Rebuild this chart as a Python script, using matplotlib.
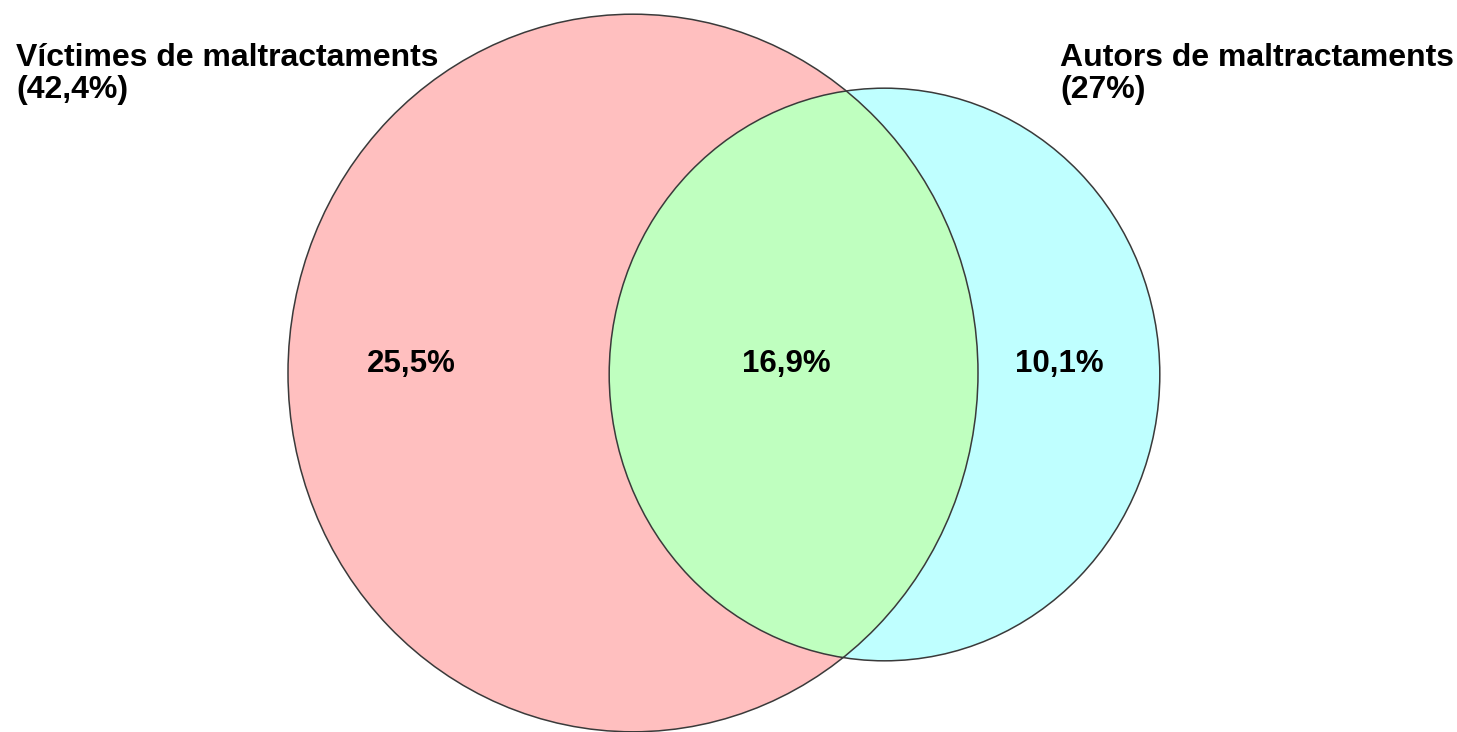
import numpy as np
import matplotlib.pyplot as plt
from matplotlib.patches import Ellipse

# Data
set_names = ["Víctimes de maltractaments", "Autors de maltractaments"]
set_totals = [42.4, 27.0]          # % of each whole set
region_values = [25.5, 16.9, 10.1]  # only victims, both, only authors

plt.rcParams['font.family'] = ['Liberation Sans', 'DejaVu Sans']

fig = plt.figure(figsize=(14.57, 7.32), dpi=100)
ax = fig.add_axes([0, 0, 1, 1])
ax.set_xlim(0, 1457)
ax.set_ylim(732, 0)
ax.axis('off')

# Circle sizes proportional to area (slightly stretched vertically like the source)
k = 345 / np.sqrt(set_totals[0])
radii = [k * np.sqrt(v) for v in set_totals]
stretch = 1.04
centers = [(633, 373), (884.5, 374.5)]
colors = ['#ffbfbf', '#bfffff']
edge = '#3a3a3a'

left = Ellipse(centers[0], 2 * radii[0], 2 * radii[0] * stretch,
               facecolor=colors[0], edgecolor='none')
right = Ellipse(centers[1], 2 * radii[1], 2 * radii[1] * stretch,
                facecolor=colors[1], edgecolor='none')
ax.add_patch(left)
ax.add_patch(right)

# overlap region: right circle clipped by left circle
both = Ellipse(centers[1], 2 * radii[1], 2 * radii[1] * stretch,
               facecolor='#bfffbf', edgecolor='none')
ax.add_patch(both)
both.set_clip_path(left)

for c, r in zip(centers, radii):
    ax.add_patch(Ellipse(c, 2 * r, 2 * r * stretch, facecolor='none',
                         edgecolor=edge, linewidth=1.1))

# set labels (two lines each)
label_left = [16, 1060]
for x, name, total in zip(label_left, set_names, set_totals):
    ax.text(x, 66, name, fontsize=23, fontweight='bold', ha='left', va='baseline')
    ax.text(x, 98, f"({total:g}%)".replace('.', ','), fontsize=23,
            fontweight='bold', ha='left', va='baseline')

# region labels
label_x = [411, 786, 1059]
for x, v in zip(label_x, region_values):
    ax.text(x, 364, f"{v:.1f}%".replace('.', ','), fontsize=22.5,
            fontweight='bold', ha='center', va='center')

fig.savefig('out.png', dpi=100)
